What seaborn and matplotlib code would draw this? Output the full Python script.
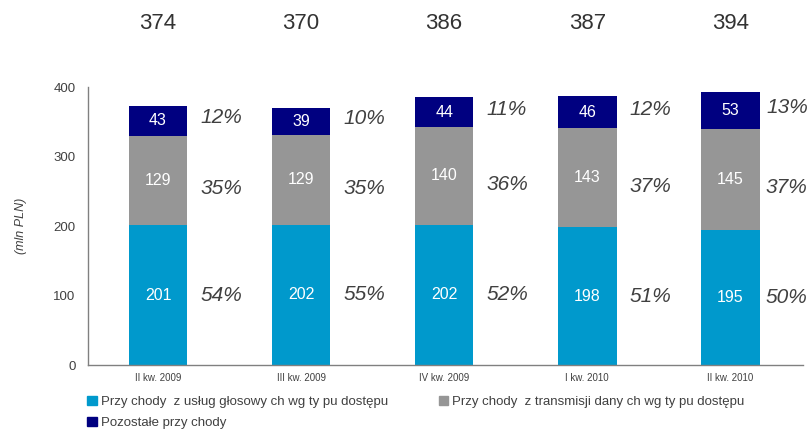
import matplotlib
matplotlib.use("Agg")
import matplotlib.pyplot as plt
import seaborn as sns
import pandas as pd
import numpy as np
from matplotlib.patches import Patch

categories = ["II kw. 2009", "III kw. 2009", "IV kw. 2009", "I kw. 2010", "II kw. 2010"]
voice = [201, 202, 202, 198, 195]
data = [129, 129, 140, 143, 145]
other = [43, 39, 44, 46, 53]
totals = [374, 370, 386, 387, 394]
pct_voice = ["54%", "55%", "52%", "51%", "50%"]
pct_data = ["35%", "35%", "36%", "37%", "37%"]
pct_other = ["12%", "10%", "11%", "12%", "13%"]
series_names = ["Przy chody  z usług głosowy ch wg ty pu dostępu",
                "Przy chody  z transmisji dany ch wg ty pu dostępu",
                "Pozostałe przy chody"]

c_voice = "#0099CC"
c_data = "#969696"
c_other = "#000080"

sns.set_theme(style="white")
plt.rcParams['font.family'] = ['Liberation Sans', 'DejaVu Sans']

df = pd.DataFrame({"cat": categories, "voice": voice, "data": data, "other": other})
df["l1"] = df["voice"]
df["l2"] = df["voice"] + df["data"]
df["l3"] = df["l2"] + df["other"]

fig = plt.figure(figsize=(8.1, 4.33), dpi=100)
ax = fig.add_axes([0.1086, 0.157, 0.883, 0.642])

w = 0.41
sns.barplot(data=df, x="cat", y="l3", color=c_other, width=w, ax=ax, saturation=1, linewidth=0)
sns.barplot(data=df, x="cat", y="l2", color=c_data, width=w, ax=ax, saturation=1, linewidth=0)
sns.barplot(data=df, x="cat", y="l1", color=c_voice, width=w, ax=ax, saturation=1, linewidth=0)

ax.set_ylim(0, 400)
ax.set_xlim(-0.49, 4.51)
ax.set_yticks([0, 100, 200, 300, 400])
ax.tick_params(axis='y', labelsize=9.5, labelcolor="#404040", length=0, pad=9)
ax.tick_params(axis='x', labelsize=7, labelcolor="#404040", length=0, pad=6)
ax.set_xlabel("")
ax.set_ylabel("(mln PLN)", fontsize=9, style="italic", color="#404040")
ax.yaxis.set_label_coords(-0.085, 0.5)
for s in ["top", "right"]:
    ax.spines[s].set_visible(False)
for s in ["left", "bottom"]:
    ax.spines[s].set_color("#808080")
    ax.spines[s].set_linewidth(1)

offsets = [0.09, 0.09, 0.09, 0.09, 0.045]
for i in range(len(categories)):
    v, d, o = voice[i], data[i], other[i]
    ax.text(i, v / 2, str(v), ha="center", va="center", color="white", fontsize=11.5)
    ax.text(i, v + d / 2, str(d), ha="center", va="center", color="white", fontsize=11.5)
    ax.text(i, v + d + o / 2, str(o), ha="center", va="center", color="white", fontsize=11.5)
    xp = i + w / 2 + offsets[i]
    ax.text(xp, v / 2, pct_voice[i], ha="left", va="center", color="#404040", fontsize=15, style="italic")
    ax.text(xp, v + d / 2 - 12, pct_data[i], ha="left", va="center", color="#404040", fontsize=15, style="italic")
    ax.text(xp, v + d + o / 2 + 4, pct_other[i], ha="left", va="center", color="#404040", fontsize=15, style="italic")
    ax.text(i, 1.227, str(totals[i]), transform=ax.get_xaxis_transform(), ha="center", va="center",
            fontsize=16, color="#333333")

handles = [Patch(color=c_voice, label=series_names[0]),
           Patch(color=c_other, label=series_names[2]),
           Patch(color=c_data, label=series_names[1])]
leg = fig.legend(handles=handles, loc="upper left", bbox_to_anchor=(0.108, 0.086), ncol=2,
                 frameon=False, fontsize=9.5, handlelength=0.7, handleheight=0.7, handletextpad=0.3,
                 columnspacing=3.9, labelspacing=0.65, borderaxespad=0, borderpad=0)
for t in leg.get_texts():
    t.set_color("#404040")

fig.savefig("out.png", dpi=100)
